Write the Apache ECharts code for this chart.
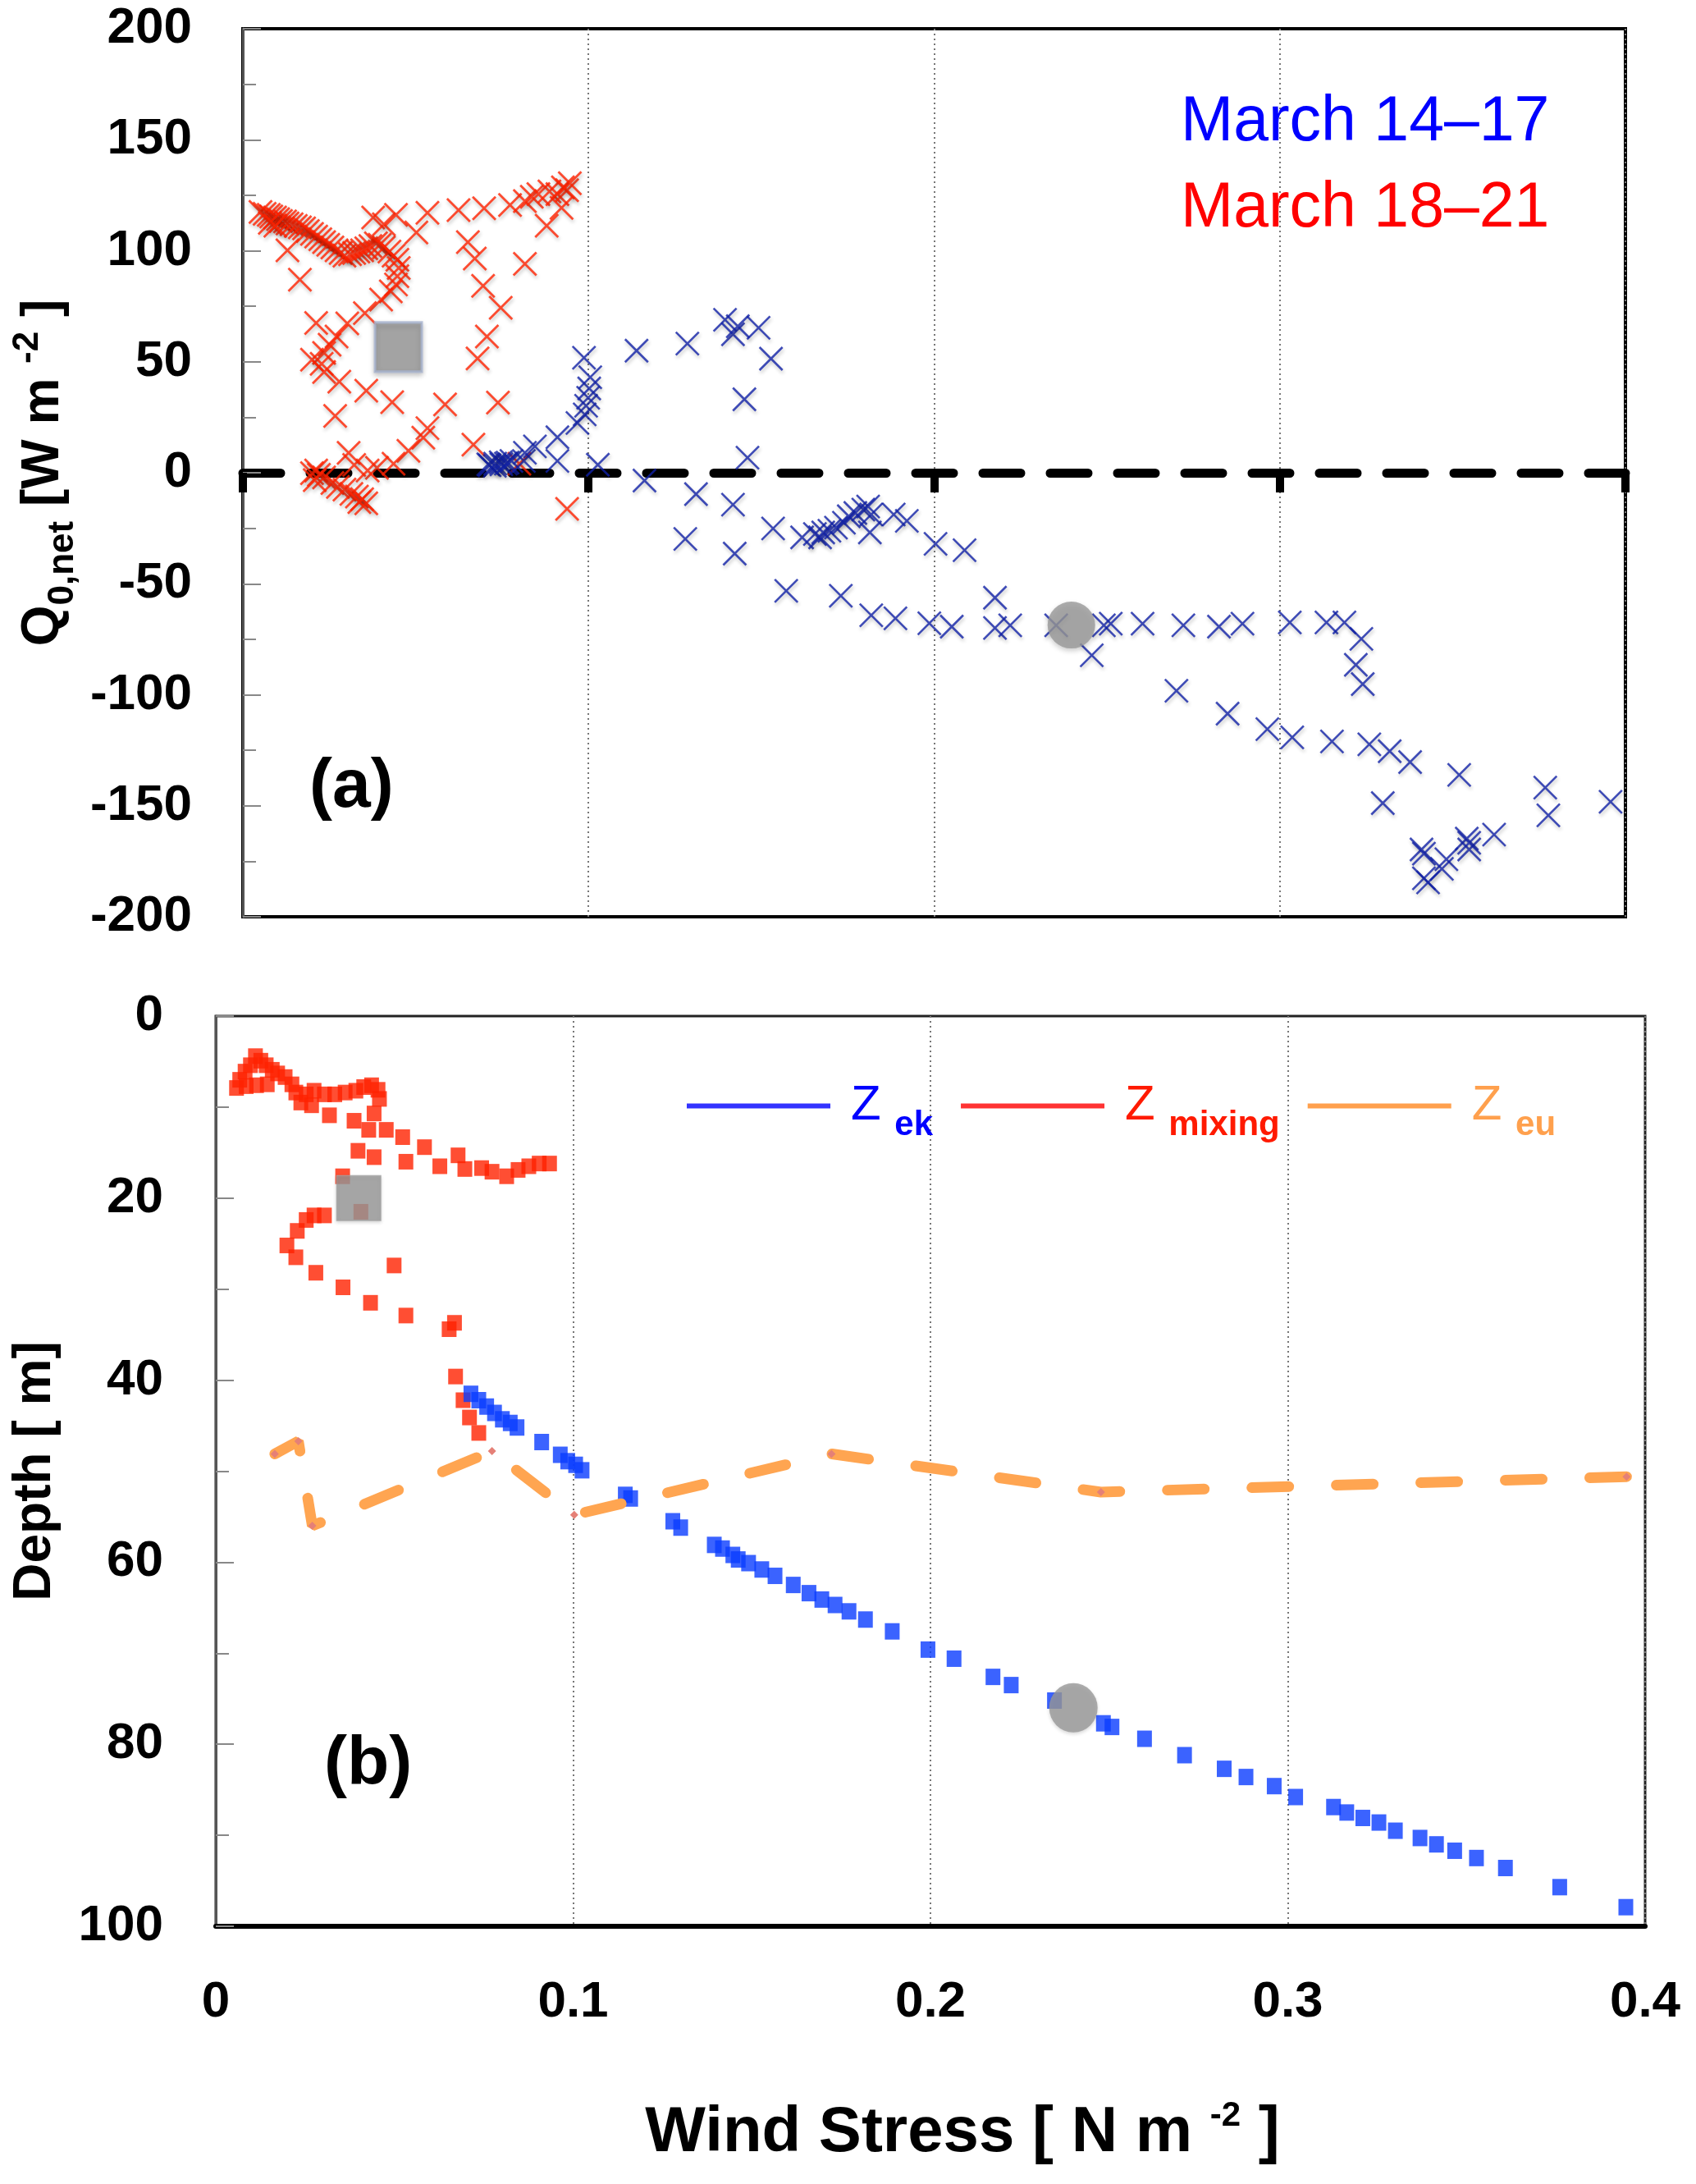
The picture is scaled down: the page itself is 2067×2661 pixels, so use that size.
<!DOCTYPE html>
<html>
<head>
<meta charset="utf-8">
<script src="https://cdn.jsdelivr.net/npm/echarts@6/dist/echarts.min.js"></script>
<style>html,body{margin:0;padding:0;background:#fff}#c{width:2067px;height:2661px}</style>
</head>
<body>
<div id="c"></div>
<script>
// ---------- data (wind stress [N m-2], value) ----------
const windTicks = [0, 0.1, 0.2, 0.3, 0.4];
const qTicks = [-200, -150, -100, -50, 0, 50, 100, 150, 200];
const depthTicks = [0, 20, 40, 60, 80, 100];

// Panel (a): Q0,net, March 14-17 (blue crosses)
const qMarch14to17 = [
 [0.0710,3.8],[0.0714,3.4],[0.0729,3.1],[0.0730,4.1],[0.0746,4.7],[0.0748,3.8],[0.0761,4.1],[0.0766,4.6],
 [0.0777,5.3],[0.0813,5.3],[0.0816,9.0],[0.0845,11.9],[0.0910,16.0],[0.0910,5.3],[0.0968,22.4],
 [0.0989,26.3],[0.0993,30.2],[0.0999,33.8],[0.1002,38.0],[0.1005,43.0],[0.0987,51.8],[0.1027,3.6],
 [0.1139,55.0],[0.1286,58.2],[0.1395,68.9],[0.1418,62.4],[0.1432,66.0],[0.1492,65.3],[0.1528,51.4],
 [0.1451,33.1],[0.1460,6.8],[0.1162,-3.5],[0.1311,-9.6],[0.1418,-14.4],[0.1280,-29.8],[0.1423,-36.4],
 [0.1534,-25.1],[0.1572,-53.2],[0.1618,-29.1],[0.1655,-27.6],[0.1670,-29.1],[0.1679,-26.9],[0.1697,-26.1],
 [0.1716,-24.7],[0.1739,-22.5],[0.1753,-19.6],[0.1772,-18.1],[0.1795,-16.6],[0.1809,-15.2],[0.1818,-18.8],
 [0.1814,-26.9],[0.1883,-18.8],[0.1921,-21.7],[0.2004,-32.0],[0.2088,-34.9],[0.1730,-55.4],[0.1818,-64.2],
 [0.1888,-65.6],[0.1986,-67.8],[0.2051,-69.3],[0.2176,-56.3],[0.2176,-69.9],[0.2220,-68.7],[0.2353,-68.7],
 [0.2456,-82.2],[0.2491,-68.7],[0.2511,-68.0],[0.2603,-68.0],[0.2721,-68.7],[0.2824,-69.3],[0.2892,-68.0],
 [0.3029,-67.4],[0.3135,-67.4],[0.3187,-67.4],[0.3236,-74.8],[0.3220,-86.5],[0.3240,-95.2],[0.2701,-98.2],
 [0.2849,-108.5],[0.2964,-115.5],[0.3036,-119.2],[0.3151,-121.0],[0.3259,-122.3],[0.3318,-125.4],
 [0.3377,-130.3],[0.3519,-136.1],[0.3298,-148.8],[0.3768,-141.8],[0.3777,-154.3],[0.3957,-148.2],
 [0.3410,-169.7],[0.3417,-171.6],[0.3482,-174.1],[0.3469,-178.4],[0.3417,-182.7],[0.3429,-184.5],
 [0.3541,-164.8],[0.3548,-169.7],[0.3620,-163.0],[0.3548,-166.7]
];

// Panel (a): Q0,net, March 18-21 (red crosses)
const qMarch18to21 = [
 [0.0051,117.5],[0.0063,116.6],[0.0075,116.2],[0.0082,115.4],[0.0093,115.0],[0.0102,114.2],[0.0110,113.4],
 [0.0122,113.2],[0.0129,112.3],[0.0141,111.9],[0.0153,111.2],[0.0165,110.5],[0.0177,110.1],[0.0188,108.9],
 [0.0078,112.6],[0.0094,111.3],[0.0200,107.6],[0.0212,106.4],[0.0224,105.2],[0.0235,103.9],[0.0247,102.7],
 [0.0259,101.5],[0.0271,100.2],[0.0283,99.0],[0.0294,97.8],[0.0310,98.4],[0.0322,99.0],[0.0334,99.6],
 [0.0345,100.2],[0.0357,101.1],[0.0369,102.1],[0.0385,103.3],[0.0396,102.7],[0.0408,101.5],[0.0424,99.6],
 [0.0436,97.8],[0.0447,95.9],[0.0451,92.2],[0.0447,88.5],[0.0443,84.8],[0.0428,81.7],[0.0400,78.0],
 [0.0353,71.9],[0.0302,67.3],[0.0271,61.4],[0.0251,57.7],[0.0235,54.0],[0.0212,67.5],[0.0200,50.9],
 [0.0228,49.1],[0.0235,45.4],[0.0279,41.0],[0.0357,37.0],[0.0432,31.8],[0.0267,25.6],[0.0129,100.2],
 [0.0165,87.0],[0.0377,115.0],[0.0408,111.9],[0.0443,116.2],[0.0502,108.2],[0.0534,117.1],[0.0624,118.3],
 [0.0698,119.1],[0.0773,120.6],[0.0816,122.4],[0.0836,124.3],[0.0855,125.5],[0.0887,126.7],[0.0910,125.5],
 [0.0926,128.6],[0.0938,127.3],[0.0946,130.4],[0.0922,119.3],[0.0879,111.3],[0.0816,94.1],[0.0651,103.9],
 [0.0671,96.5],[0.0695,84.2],[0.0746,74.3],[0.0706,61.4],[0.0679,51.5],[0.0738,31.6],[0.0585,30.8],
 [0.0667,12.7],[0.0534,20.1],[0.0522,15.8],[0.0479,9.9],[0.0436,4.1],[0.0388,2.2],[0.0306,9.0],
 [0.0322,3.5],[0.0361,1.0],[0.0212,1.0],[0.0200,-0.2],[0.0220,-0.9],[0.0235,-2.1],[0.0208,-3.3],
 [0.0259,-4.6],[0.0275,-6.4],[0.0294,-7.6],[0.0314,-9.5],[0.0330,-10.7],[0.0345,-11.9],[0.0357,-13.8],
 [0.0337,-13.2],[0.0800,4.1],[0.0938,-16.3]
];
const qMeanSquare = [[0.045,56.6]];
const qMeanCircle = [[0.2397,-68.6]];

// Panel (b): depths [m]
const zEk = [
 [0.0714,41.5],[0.0736,42.2],[0.0758,42.9],[0.0780,43.6],[0.0802,44.3],[0.0824,44.7],[0.0843,45.2],
 [0.0912,46.8],[0.0964,48.2],[0.0985,48.9],[0.1007,49.3],[0.1025,49.9],[0.1146,52.6],[0.1161,53.0],
 [0.1279,55.5],[0.1301,56.2],[0.1395,58.1],[0.1418,58.5],[0.1447,59.2],[0.1462,59.7],[0.1491,60.1],
 [0.1528,60.8],[0.1565,61.5],[0.1616,62.5],[0.1660,63.4],[0.1696,64.1],[0.1733,64.7],[0.1772,65.4],
 [0.1818,66.3],[0.1893,67.6],[0.1993,69.6],[0.2066,70.6],[0.2175,72.6],[0.2226,73.5],[0.2347,75.2],
 [0.2484,77.7],[0.2508,78.1],[0.2599,79.4],[0.2711,81.2],[0.2822,82.7],[0.2883,83.6],[0.2962,84.6],
 [0.3022,85.8],[0.3128,86.9],[0.3165,87.5],[0.3210,88.1],[0.3255,88.6],[0.3301,89.5],[0.3370,90.3],
 [0.3416,91.0],[0.3467,91.7],[0.3528,92.5],[0.3609,93.6],[0.3761,95.7],[0.3946,97.9]
];
const zMixing = [
 [0.0058,7.9],[0.0067,7.0],[0.0082,6.1],[0.0097,5.4],[0.0111,4.4],[0.0126,4.9],[0.0141,5.4],[0.0158,5.9],
 [0.0085,7.7],[0.0114,7.6],[0.0144,7.5],[0.0173,6.3],[0.0194,6.7],[0.0213,7.5],[0.0224,8.4],[0.0238,9.5],
 [0.0268,9.8],[0.0253,8.6],[0.0275,8.2],[0.0304,8.6],[0.0333,8.6],[0.0362,8.4],[0.0392,8.2],[0.0414,7.8],
 [0.0436,7.6],[0.0454,8.1],[0.0458,9.1],[0.0318,10.9],[0.0387,11.5],[0.0443,10.7],[0.0428,12.5],
 [0.0477,12.5],[0.0523,13.3],[0.0584,14.4],[0.0398,14.8],[0.0443,15.5],[0.0532,16.0],[0.0627,16.5],
 [0.0678,15.3],[0.0697,16.8],[0.0744,16.7],[0.0773,17.1],[0.0814,17.6],[0.0846,16.9],[0.0876,16.5],
 [0.0905,16.2],[0.0934,16.2],[0.0355,17.6],[0.0406,21.5],[0.0304,21.9],[0.0275,21.9],[0.0253,22.4],
 [0.0228,23.6],[0.0199,25.2],[0.0224,26.5],[0.0280,28.2],[0.0356,29.8],[0.0433,31.5],[0.0532,32.9],
 [0.0499,27.4],[0.0653,34.4],[0.0668,33.7],[0.0671,39.6],[0.0692,42.2],[0.0710,44.1],[0.0736,45.8]
];
const zEu = [
 [0.0165,48.1],[0.0231,46.7],[0.0270,56.0],[0.0773,47.8],[0.1003,54.8],[0.1723,48.1],[0.2477,52.3],[0.3948,50.6]
];
const zMeanSquare = [[0.040,20.0]];
const zMeanCircle = [[0.240,76.0]];

// ---------- chart ----------
const FONT = "'Liberation Sans', Arial, Helvetica, sans-serif";
const CROSS = 'path://M0,0L10,10M10,0L0,10';
const chart = echarts.init(document.getElementById('c'), null, {renderer: 'canvas'});
const fmtWind = v => (v === 0 ? '0' : v.toFixed(1));
const shadow = {shadowColor: 'rgba(0,0,0,0.28)', shadowBlur: 4, shadowOffsetY: 3, shadowOffsetX: 1};
const gridDots = {show: true, lineStyle: {color: '#777', width: 2, type: [2, 4]}};

const option = {
  backgroundColor: '#ffffff',
  animation: false,
  textStyle: {fontFamily: FONT},
  grid: [
    {left: 282, top: 35, width: 1699, height: 1082, show: true, borderColor: '#000', borderWidth: 4, backgroundColor: 'transparent'},
    {left: 263, top: 1238, width: 1742, height: 1109, show: true, borderColor: '#222', borderWidth: 3, backgroundColor: 'transparent'}
  ],
  legend: [
    {
      orient: 'vertical', left: 1434, top: 100, padding: 0, itemGap: 5, itemWidth: 0, itemHeight: 0,
      icon: 'none', selectedMode: false,
      textStyle: {fontFamily: FONT, fontSize: 77, lineHeight: 100},
      data: [
        {name: 'March 14–17', icon: 'none', textStyle: {color: '#0000ff'}},
        {name: 'March 18–21', icon: 'none', textStyle: {color: '#ff0000'}}
      ]
    },
    {
      orient: 'horizontal', left: 837, top: 1303, padding: 0, itemGap: 34, itemWidth: 175, itemHeight: 6,
      selectedMode: false,
      textStyle: {
        fontFamily: FONT, padding: [0, 0, 0, 20],
        rich: {
          zb: {fontSize: 60, lineHeight: 60, color: '#0000ff', verticalAlign: 'middle', fontFamily: FONT},
          sb: {fontSize: 42, lineHeight: 42, fontWeight: 'bold', color: '#0000ff', verticalAlign: 'middle', padding: [47, 0, 0, 0], fontFamily: FONT},
          zr: {fontSize: 60, lineHeight: 60, color: '#ff1a00', verticalAlign: 'middle', fontFamily: FONT},
          sr: {fontSize: 42, lineHeight: 42, fontWeight: 'bold', color: '#ff1a00', verticalAlign: 'middle', padding: [47, 0, 0, 0], fontFamily: FONT},
          zo: {fontSize: 60, lineHeight: 60, color: '#ffa04d', verticalAlign: 'middle', fontFamily: FONT},
          so: {fontSize: 42, lineHeight: 42, fontWeight: 'bold', color: '#ffa04d', verticalAlign: 'middle', padding: [47, 0, 0, 0], fontFamily: FONT}
        }
      },
      formatter: function (name) {
        if (name === 'Zek') return '{zb|Z }{sb|ek}';
        if (name === 'Zmixing') return '{zr|Z }{sr|mixing}';
        return '{zo|Z }{so|eu}';
      },
      data: [
        {name: 'Zek', icon: 'rect', itemStyle: {color: '#0000ff', borderWidth: 0}, lineStyle: {opacity: 0}},
        {name: 'Zmixing', icon: 'rect', itemStyle: {color: '#ff0000', borderWidth: 0}, lineStyle: {opacity: 0}},
        {name: 'Zeu', icon: 'rect', itemStyle: {color: '#ffa04d', borderWidth: 0}, lineStyle: {opacity: 0}}
      ]
    }
  ],
  xAxis: [
    {
      type: 'value', gridIndex: 0, min: 0, max: 0.4, interval: 0.1,
      axisLine: {show: true, onZero: true, lineStyle: {color: '#000', width: 11, type: [46, 36]}},
      axisTick: {show: true, inside: false, length: 24, lineStyle: {color: '#000', width: 10}},
      axisLabel: {show: false},
      splitLine: gridDots
    },
    {
      type: 'value', gridIndex: 1, min: 0, max: 0.4, interval: 0.1,
      axisLine: {show: true, onZero: false, lineStyle: {color: '#000', width: 6}},
      axisTick: {show: false},
      axisLabel: {show: true, margin: 62, fontSize: 62, fontWeight: 'bold', color: '#000', fontFamily: FONT, formatter: fmtWind},
      splitLine: gridDots,
      name: '{a|Wind Stress [ N m }{sup|-2}{a| ]}',
      nameLocation: 'middle', nameGap: 213,
      nameTextStyle: {
        padding: [0, 0, 0, 78],
        rich: {
          a: {fontSize: 78, lineHeight: 78, fontWeight: 'bold', color: '#000', verticalAlign: 'middle', fontFamily: FONT},
          sup: {fontSize: 42, lineHeight: 42, fontWeight: 'bold', color: '#000', verticalAlign: 'middle', padding: [0, 0, 42, 0], fontFamily: FONT}
        }
      }
    }
  ],
  yAxis: [
    {
      type: 'value', gridIndex: 0, min: -200, max: 200, interval: 50,
      axisLine: {show: true, lineStyle: {color: '#555', width: 3}},
      axisTick: {show: true, inside: true, length: 22, lineStyle: {color: '#888', width: 2}},
      minorTick: {show: true, splitNumber: 2, length: 16, lineStyle: {color: '#888', width: 2}},
      axisLabel: {margin: 62, fontSize: 62, fontWeight: 'bold', color: '#000', fontFamily: FONT},
      splitLine: {show: false},
      name: '{q|Q}{sub|0,net}{q| [W m }{sup|-2}{q| ]}',
      nameLocation: 'middle', nameRotate: 90, nameGap: 183,
      nameTextStyle: {
        rich: {
          q: {fontSize: 64, lineHeight: 64, fontWeight: 'bold', color: '#000', verticalAlign: 'middle', fontFamily: FONT},
          sub: {fontSize: 44, lineHeight: 44, fontWeight: 'bold', color: '#000', verticalAlign: 'middle', padding: [47, 0, 0, 0], fontFamily: FONT},
          sup: {fontSize: 44, lineHeight: 44, fontWeight: 'bold', color: '#000', verticalAlign: 'middle', padding: [0, 0, 40, 0], fontFamily: FONT}
        }
      }
    },
    {
      type: 'value', gridIndex: 1, min: 0, max: 100, interval: 20, inverse: true,
      axisLine: {show: true, lineStyle: {color: '#555', width: 3}},
      axisTick: {show: true, inside: true, length: 22, lineStyle: {color: '#888', width: 2}},
      minorTick: {show: true, splitNumber: 2, length: 16, lineStyle: {color: '#888', width: 2}},
      axisLabel: {margin: 64, fontSize: 62, fontWeight: 'bold', color: '#000', fontFamily: FONT},
      splitLine: {show: false},
      name: 'Depth [ m]',
      nameLocation: 'middle', nameRotate: 90, nameGap: 188,
      nameTextStyle: {fontSize: 64, lineHeight: 64, fontWeight: 'bold', color: '#000', fontFamily: FONT}
    }
  ],
  graphic: [
    {type: 'text', left: 377, top: 918, style: {text: '(a)', font: "bold 84px 'Liberation Sans', Arial, sans-serif", fill: '#000'}},
    {type: 'text', left: 395, top: 2109, style: {text: '(b)', font: "bold 84px 'Liberation Sans', Arial, sans-serif", fill: '#000'}}
  ],
  series: [
    {
      name: 'March 18–21', type: 'scatter', xAxisIndex: 0, yAxisIndex: 0, data: qMarch18to21,
      symbol: CROSS, symbolSize: 28,
      itemStyle: Object.assign({color: '#ff2200', borderColor: '#ff2200', borderWidth: 2.8}, shadow)
    },
    {
      name: 'March 14–17', type: 'scatter', xAxisIndex: 0, yAxisIndex: 0, data: qMarch14to17,
      symbol: CROSS, symbolSize: 28,
      itemStyle: Object.assign({color: '#1020a6', borderColor: '#1020a6', borderWidth: 2.6}, shadow)
    },
    {
      name: 'mean18', type: 'scatter', xAxisIndex: 0, yAxisIndex: 0, data: qMeanSquare,
      symbol: 'rect', symbolSize: [57, 60], z: 5,
      itemStyle: {color: '#999999', borderColor: '#a8b4d0', borderWidth: 3, shadowColor: 'rgba(0,0,0,0.25)', shadowBlur: 6, shadowOffsetY: 3}
    },
    {
      name: 'mean14', type: 'scatter', xAxisIndex: 0, yAxisIndex: 0, data: qMeanCircle,
      symbol: 'circle', symbolSize: [58, 57], z: 5,
      itemStyle: {color: '#999999', shadowColor: 'rgba(0,0,0,0.25)', shadowBlur: 6, shadowOffsetY: 3}
    },
    {
      name: 'Zeu', type: 'line', xAxisIndex: 1, yAxisIndex: 1, data: zEu,
      symbol: 'diamond', symbolSize: 10, showSymbol: true,
      lineStyle: {color: '#ffa551', width: 13, type: [45, 58], cap: 'round'},
      itemStyle: {color: '#e58077'}
    },
    {
      name: 'Zmixing', type: 'scatter', xAxisIndex: 1, yAxisIndex: 1, data: zMixing,
      symbol: 'rect', symbolSize: [18, 19],
      itemStyle: {color: '#ff2200'}
    },
    {
      name: 'Zek', type: 'scatter', xAxisIndex: 1, yAxisIndex: 1, data: zEk,
      symbol: 'rect', symbolSize: [18, 20],
      itemStyle: {color: '#0a3cff'}
    },
    {
      name: 'meanB18', type: 'scatter', xAxisIndex: 1, yAxisIndex: 1, data: zMeanSquare,
      symbol: 'rect', symbolSize: [54, 55], z: 5,
      itemStyle: {color: '#999999', borderColor: '#a8a8a8', borderWidth: 1, shadowColor: 'rgba(0,0,0,0.2)', shadowBlur: 4, shadowOffsetY: 2}
    },
    {
      name: 'meanB14', type: 'scatter', xAxisIndex: 1, yAxisIndex: 1, data: zMeanCircle,
      symbol: 'circle', symbolSize: [59, 60], z: 5,
      itemStyle: {color: '#999999', shadowColor: 'rgba(0,0,0,0.2)', shadowBlur: 4, shadowOffsetY: 2}
    }
  ]
};
chart.setOption(option);
</script>
</body>
</html>
